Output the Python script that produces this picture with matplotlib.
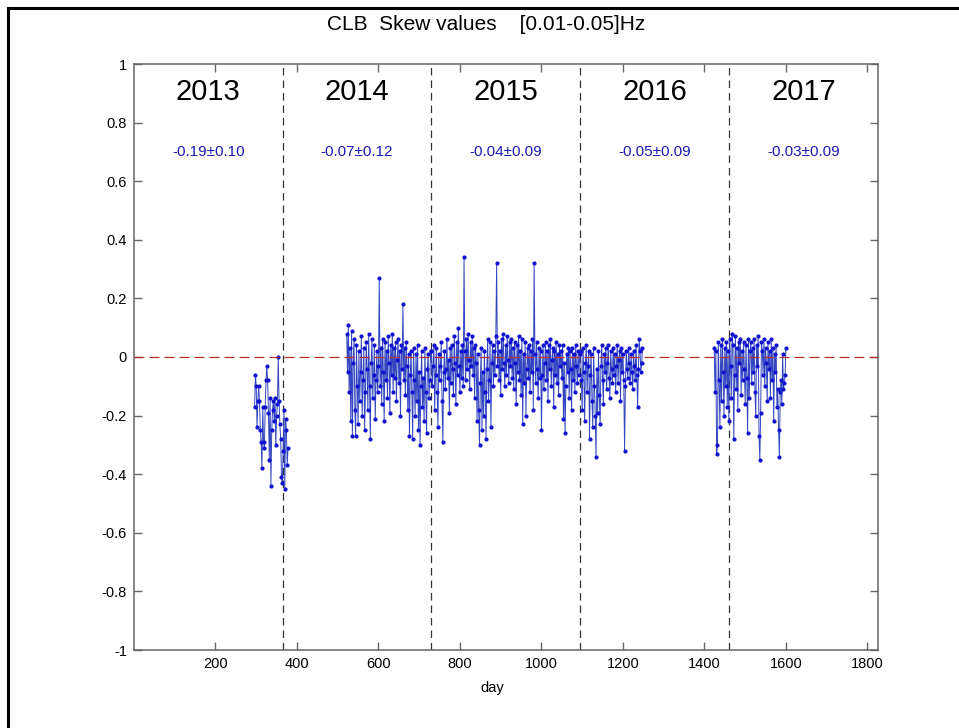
import numpy as np
import matplotlib
matplotlib.use("Agg")
import matplotlib.pyplot as plt
from matplotlib.patches import Rectangle

plt.rcParams['font.family'] = ['Liberation Sans', 'DejaVu Sans']

# ---------------- data ----------------
years = ["2013", "2014", "2015", "2016", "2017"]
year_bounds = [365, 730, 1095, 1461]
year_centers = [182.5, 547.5, 912.5, 1278, 1643.5]
stats = ["-0.19\u00b10.10", "-0.07\u00b10.12", "-0.04\u00b10.09", "-0.05\u00b10.09", "-0.03\u00b10.09"]

days_2013 = np.arange(296, 380, 2)
vals_2013 = [-0.17, -0.06, -0.10, -0.24, -0.15, -0.10, -0.15, -0.25, -0.29, -0.38,
             -0.17, -0.29, -0.31, -0.17, -0.08, -0.03, -0.08, -0.19, -0.35, -0.14,
             -0.44, -0.25, -0.18, -0.15, -0.22, -0.14, -0.30, -0.20, -0.16, 0.00,
             -0.15, -0.23, -0.28, -0.41, -0.43, -0.32, -0.18, -0.45, -0.21, -0.25,
             -0.37, -0.31]

days_2014 = np.arange(522, 730, 2)
vals_2014 = [0.08, -0.05, 0.11, -0.12, 0.03, -0.22, 0.09, -0.27, -0.02, 0.06,
             -0.18, -0.27, 0.04, -0.10, -0.23, 0.02, -0.15, -0.05, 0.07, -0.20,
             -0.08, 0.03, -0.25, -0.12, 0.05, -0.04, -0.18, 0.08, -0.10, -0.28,
             -0.02, 0.06, -0.14, -0.06, 0.04, -0.21, -0.08, 0.02, -0.12, -0.03,
             0.27, -0.10, 0.03, -0.16, 0.06, -0.05, -0.22, 0.05, -0.08, 0.02,
             -0.14, 0.07, -0.02, -0.19, 0.04, -0.06, 0.08, -0.12, 0.03, -0.07,
             0.05, -0.15, -0.01, 0.06, -0.09, 0.02, -0.20, 0.04, -0.04, 0.18,
             -0.08, 0.03, -0.13, 0.05, -0.03, -0.18, 0.01, -0.27, -0.06, 0.02,
             -0.12, -0.28, 0.03, -0.08, -0.20, 0.01, -0.15, 0.04, -0.25, -0.05,
             -0.30, -0.10, 0.02, -0.17, -0.07, -0.22, 0.03, -0.12, -0.26, -0.04,
             0.01, -0.14, -0.08, 0.02]

days_2015 = np.arange(730, 1096, 2)
vals_2015 = [0.02, -0.10, -0.03, 0.04, -0.18, -0.06, 0.03, -0.12, -0.24, 0.01,
             -0.08, -0.03, 0.05, -0.15, -0.29, -0.05, 0.02, -0.11, -0.04, 0.06,
             -0.07, -0.01, -0.19, 0.03, -0.09, 0.04, -0.04, -0.13, 0.07, -0.02,
             -0.16, 0.05, -0.06, 0.10, -0.03, -0.12, 0.02, -0.07, 0.04, -0.10,
             0.34, 0.02, -0.08, 0.06, -0.04, 0.08, -0.01, -0.11, 0.05, -0.03,
             0.07, -0.06, 0.03, -0.14, 0.04, -0.02, -0.22, 0.01, -0.18, -0.30,
             -0.09, 0.03, -0.25, -0.05, -0.20, 0.02, -0.12, -0.28, -0.04, 0.06,
             -0.15, -0.08, 0.05, -0.24, -0.02, 0.04, -0.10, 0.02, -0.06, 0.07,
             0.32, -0.03, 0.05, -0.08, 0.02, -0.13, 0.06, -0.04, 0.08, -0.02,
             -0.10, 0.04, -0.06, 0.07, -0.01, -0.09, 0.05, -0.03, 0.06, -0.07,
             0.03, -0.11, 0.05, -0.02, -0.16, 0.04, -0.05, 0.07, -0.08, 0.02,
             -0.13, 0.06, -0.23, 0.01, -0.09, 0.05, -0.20, -0.04, 0.03, -0.07,
             0.04, -0.12, 0.02, -0.05, 0.06, -0.18, 0.32, 0.01, -0.09, 0.05,
             -0.04, -0.14, 0.03, -0.07, 0.02, -0.25, -0.06, 0.04, -0.11, -0.02,
             0.05, -0.08, 0.02, -0.15, 0.04, -0.04, 0.06, -0.10, -0.01, 0.03,
             -0.17, 0.02, -0.06, 0.05, -0.09, 0.01, -0.13, 0.04, -0.03, 0.02,
             -0.07, 0.04, -0.21, -0.02, -0.26, -0.10, 0.01, -0.05, 0.03, -0.14,
             0.02, -0.04, -0.18, 0.03, -0.08, 0.01, -0.12, 0.04, -0.03, -0.09,
             0.02, -0.06, 0.01]

days_2016 = np.arange(1096, 1250, 2)
vals_2016 = [0.02, -0.08, -0.18, 0.03, -0.05, -0.22, -0.02, 0.04, -0.12, -0.03,
             0.02, -0.28, -0.06, 0.01, -0.15, -0.24, 0.03, -0.10, -0.20, -0.34,
             -0.04, -0.19, 0.02, -0.13, -0.23, -0.03, 0.04, -0.08, -0.16, 0.01,
             -0.05, 0.03, -0.11, -0.02, 0.04, -0.07, -0.14, 0.02, -0.04, -0.09,
             0.03, -0.06, 0.01, -0.12, -0.03, 0.04, -0.09, -0.01, 0.02, -0.15,
             0.03, -0.05, 0.01, -0.08, -0.32, -0.10, 0.02, -0.04, -0.07, 0.03,
             -0.02, -0.09, 0.01, -0.05, -0.11, 0.02, -0.03, -0.08, 0.04, -0.06,
             -0.17, -0.04, 0.06, 0.02, -0.05, -0.02, 0.03]

days_2017 = np.arange(1424, 1602, 2)
vals_2017 = [0.03, -0.12, 0.02, -0.33, -0.30, 0.05, -0.08, -0.24, 0.04, -0.15,
             0.06, -0.05, -0.20, 0.03, -0.10, 0.05, -0.17, 0.02, -0.22, 0.06,
             -0.03, -0.14, 0.08, 0.04, -0.28, -0.06, 0.07, -0.11, 0.03, -0.18,
             0.05, -0.02, 0.06, -0.13, 0.02, -0.08, 0.05, -0.04, -0.16, 0.04,
             -0.07, -0.26, 0.06, -0.14, 0.02, 0.05, -0.09, 0.03, -0.05, 0.06,
             -0.12, -0.20, 0.04, -0.03, 0.07, -0.27, -0.35, -0.19, 0.05, 0.02,
             -0.06, 0.06, -0.10, 0.03, -0.02, -0.15, 0.05, -0.04, 0.02, -0.14,
             0.06, -0.08, 0.03, -0.22, 0.01, -0.05, 0.04, -0.17, -0.11, -0.25,
             -0.34, -0.12, -0.08, -0.16, 0.01, -0.11, -0.09, -0.06, 0.03]

segments = [(days_2013, vals_2013), (days_2014, vals_2014), (days_2015, vals_2015),
            (days_2016, vals_2016), (days_2017, vals_2017)]

x_ticks = [200, 400, 600, 800, 1000, 1200, 1400, 1600, 1800]
y_ticks = [-1, -0.8, -0.6, -0.4, -0.2, 0, 0.2, 0.4, 0.6, 0.8, 1]
y_tick_labels = ["-1", "-0.8", "-0.6", "-0.4", "-0.2", "0", "0.2", "0.4", "0.6", "0.8", "1"]

# ---------------- figure ----------------
W, H = 959, 728
fig = plt.figure(figsize=(W / 100, H / 100), dpi=100)
ax = fig.add_axes([134 / W, 1 - 650 / H, (878 - 134) / W, (650 - 64) / H])

for d, v in segments:
    ax.plot(d, v, '-', color='#3345c0', lw=0.7, zorder=3)
    ax.plot(d, v, '.', color='#1010d0', ms=4, zorder=4)

ax.axhline(0, color='#b83030', lw=0.9, ls=(0, (8, 4)), zorder=5)
for b in year_bounds:
    ax.axvline(b, color='#333333', lw=0.9, ls=(0, (6, 4)), zorder=2)

for xc, yr, st in zip(year_centers, years, stats):
    ax.text(xc, 0.905, yr, ha='center', va='center', fontsize=21, color='black')
    ax.text(xc, 0.70, st, ha='center', va='center', fontsize=11, color='#1a1ab4')

ax.set_xlim(0, 1826)
ax.set_ylim(-1, 1)
ax.set_xticks(x_ticks)
ax.set_xticklabels([str(t) for t in x_ticks])
ax.set_yticks(y_ticks)
ax.set_yticklabels(y_tick_labels)
ax.tick_params(direction='in', length=6, width=1, color='#666666', labelsize=10.5,
               top=True, right=True, pad=5, labelcolor='black')
for s in ax.spines.values():
    s.set_color('#666666')
    s.set_linewidth(1.1)

fig.text(486 / W, 1 - 25 / H, "CLB  Skew values    [0.01-0.05]Hz", ha='center', va='center',
         fontsize=15)
fig.text(492 / W, 1 - 688 / H, "day", ha='center', va='center', fontsize=10.5)

# outer frame (left and top edges visible; the rest lies outside the image)
frame = Rectangle((8 / W, -0.5), 2.0, 1.5 - 8 / H, transform=fig.transFigure,
                  fill=False, edgecolor='black', lw=2.2, zorder=10)
fig.patches.append(frame)

fig.savefig("out.png", dpi=100)
